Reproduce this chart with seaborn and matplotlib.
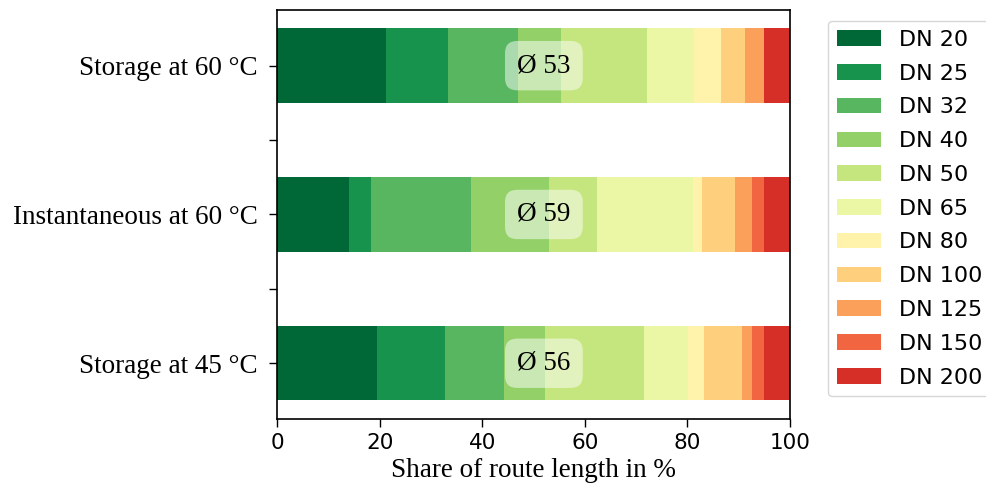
import numpy as np
import pandas as pd
import matplotlib
matplotlib.use("Agg")
import matplotlib.pyplot as plt
import seaborn as sns
from matplotlib.patches import Patch

categories = ["Storage at 60 °C", "Instantaneous at 60 °C", "Storage at 45 °C"]
dn_labels = ["DN 20", "DN 25", "DN 32", "DN 40", "DN 50", "DN 65",
             "DN 80", "DN 100", "DN 125", "DN 150", "DN 200"]
storage_60 = [21.3, 12.0, 13.7, 8.3, 16.8, 9.1, 5.3, 4.8, 3.7, 0.0, 5.0]
instant_60 = [13.9, 4.3, 19.6, 15.2, 9.3, 18.7, 1.8, 6.4, 3.3, 2.5, 5.0]
storage_45 = [19.4, 13.4, 11.4, 8.0, 19.3, 8.7, 3.0, 7.5, 1.8, 2.5, 5.0]
mean_dn = [53, 59, 56]

serif = ["Liberation Serif", "DejaVu Serif"]

df = pd.DataFrame([storage_60, instant_60, storage_45], index=categories, columns=dn_labels)
cum = df.cumsum(axis=1)
cmap = plt.get_cmap("RdYlGn_r")
colors = [cmap(v) for v in np.linspace(0, 0.9, len(dn_labels))]

fig = plt.figure(figsize=(9.86, 4.93), dpi=100)
ax = fig.add_axes([0.2812, 0.150, 0.520, 0.830])

for i in reversed(range(len(dn_labels))):
    sns.barplot(x=cum[dn_labels[i]].values, y=categories, orient="h",
                color=colors[i], width=0.5, linewidth=0, saturation=1,
                order=categories, ax=ax)

for j, val in enumerate(mean_dn):
    ax.text(52, j, f"Ø {val}", ha="center", va="center", fontsize=19.5,
            family=serif,
            bbox=dict(boxstyle="round,pad=0.45", facecolor="white", edgecolor="none", alpha=0.5))

ax.set_xlim(0, 100)
ax.set_ylim(2.375, -0.375)
ax.set_yticks([0, 0.5, 1, 1.5, 2])
ax.set_yticklabels([categories[0], "", categories[1], "", categories[2]], family=serif, fontsize=19.5)
ax.set_xticks([0, 20, 40, 60, 80, 100])
ax.tick_params(axis="x", labelsize=15.5, length=5.8, width=1.0, pad=4.5)
ax.tick_params(axis="y", length=5.8, width=1.0, pad=8)
for sp in ax.spines.values():
    sp.set_linewidth(1.2)
ax.set_xlabel("Share of route length in %", family=serif, fontsize=19.5, labelpad=3)
ax.set_ylabel("")

handles = [Patch(facecolor=colors[i], edgecolor="none", label=dn_labels[i]) for i in range(len(dn_labels))]
ax.legend(handles=handles, loc="upper left", bbox_to_anchor=(1.0735, 0.973),
          borderaxespad=0, fontsize=16, frameon=True, labelspacing=0.62)

fig.savefig("out.png", dpi=100)
